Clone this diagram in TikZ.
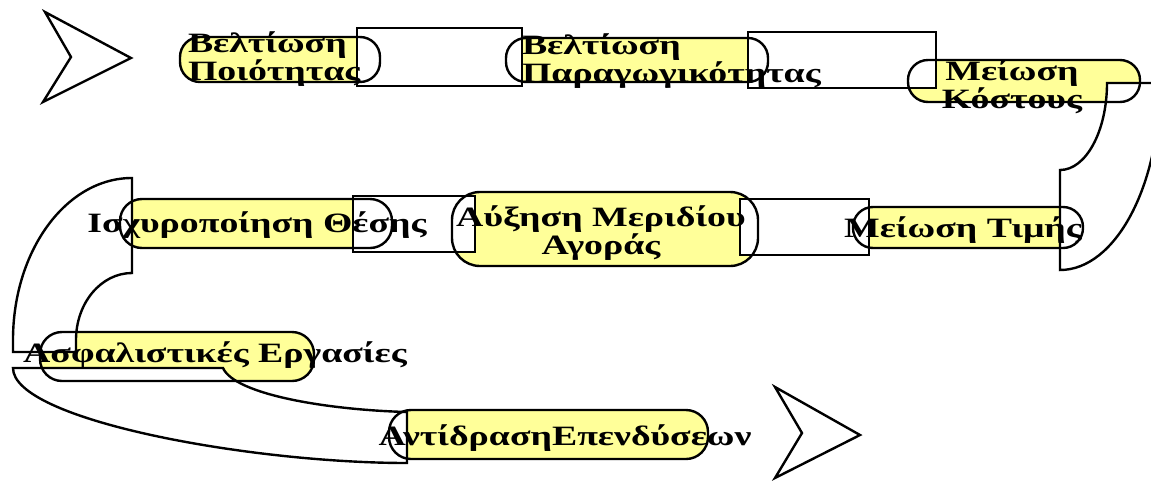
\documentclass[tikz,border=0pt]{standalone}
\usepackage{fontspec}
\setmainfont{Liberation Serif}[FakeStretch=1.35]
\definecolor{pillyellow}{HTML}{FFFF99}
\begin{document}
\begin{tikzpicture}[x=1pt,y=-1pt,
  line width=2.4pt, line join=miter,
  pillfill/.style={fill=pillyellow},
  band/.style={draw=black, fill=white},
  chevron/.style={draw=black, fill=white, line join=miter},
  lbl/.style={font=\fontsize{28}{28}\selectfont\bfseries, inner sep=0pt, outer sep=0pt, text=black},
]
\useasboundingbox (0,0) rectangle (1151,480);
\clip (0,0) rectangle (1151,480);

% ---- pill backgrounds ----
\path[pillfill,rounded corners=20pt] (180,37) coordinate (p1a) rectangle (380,82) coordinate (p1b);
\path[pillfill,rounded corners=20pt] (506,38) coordinate (p2a) rectangle (768,82) coordinate (p2b);
\path[pillfill,rounded corners=20pt] (908,60) coordinate (p3a) rectangle (1140,102) coordinate (p3b);
\path[pillfill,rounded corners=20pt] (853,207) coordinate (p4a) rectangle (1083,248) coordinate (p4b);
\path[pillfill,rounded corners=28pt] (452,192) coordinate (p5a) rectangle (758,266) coordinate (p5b);
\path[pillfill,rounded corners=22pt] (120,199) coordinate (p6a) rectangle (392,248) coordinate (p6b);
\path[pillfill,rounded corners=22pt] (40,332) coordinate (p7a) rectangle (314,381) coordinate (p7b);
\path[pillfill,rounded corners=22pt] (389,410) coordinate (p8a) rectangle (708,459) coordinate (p8b);

% ---- straight links ----
\path[band] (357,28) rectangle (522,86);
\path[band] (748,32) rectangle (936,88);
\path[band] (740,199) rectangle (869,255);
\path[band] (353,196) rectangle (475,252);

% ---- curved links ----
\path[band] (1060,270) arc[start angle=90, end angle=0, x radius=100, y radius=187]
  -- (1107,83) arc[start angle=0, end angle=90, x radius=47, y radius=87] -- cycle;
\path[band] (132,178) arc[start angle=270, end angle=180, x radius=119, y radius=162]
  -- (13,352) -- (76,352) -- (76,340)
  arc[start angle=180, end angle=270, x radius=56, y radius=67] -- cycle;
\path[band] (13,368) -- (223,368) .. controls (235,395) and (330,410) .. (407,412)
  -- (407,463) .. controls (250,463) and (13,420) .. (13,368) -- cycle;

% ---- pill outlines ----
\foreach \p/\r in {p1/20,p2/20,p3/20,p4/20,p5/28,p6/22,p7/22,p8/22}
  \draw[rounded corners=\r pt] (\p a) rectangle (\p b);

% ---- chevrons ----
\path[chevron] (45,12) -- (131,58) -- (43,102) -- (71,57) -- cycle;
\path[chevron] (775,387) -- (860,435) -- (775,478) -- (802,433) -- cycle;

% ---- labels (base = baseline of the last line) ----
\node[lbl, anchor=base west, align=left] (t1) at (188,80) {Βελτίωση\\Ποιότητας};
\node[lbl, anchor=base west, align=left] (t2) at (522,82) {Βελτίωση\\Παραγωγικότητας};
\node[lbl, anchor=base, align=center] (t3) at (1012,108) {Μείωση\\Κόστους};
\node[lbl, anchor=base] (t4) at (963,237) {Μείωση Τιμής};
\node[lbl, anchor=base, align=center] (t5) at (601,254) {Αύξηση Μεριδίου\\Αγοράς};
\node[lbl, anchor=base] (t6) at (257,232) {Ισχυροποίηση Θέσης};
\node[lbl, anchor=base] (t7) at (215,362) {Ασφαλιστικές Εργασίες};
\node[lbl, anchor=base] (t8) at (565,445) {ΑντίδρασηΕπενδύσεων};
\end{tikzpicture}
\end{document}
